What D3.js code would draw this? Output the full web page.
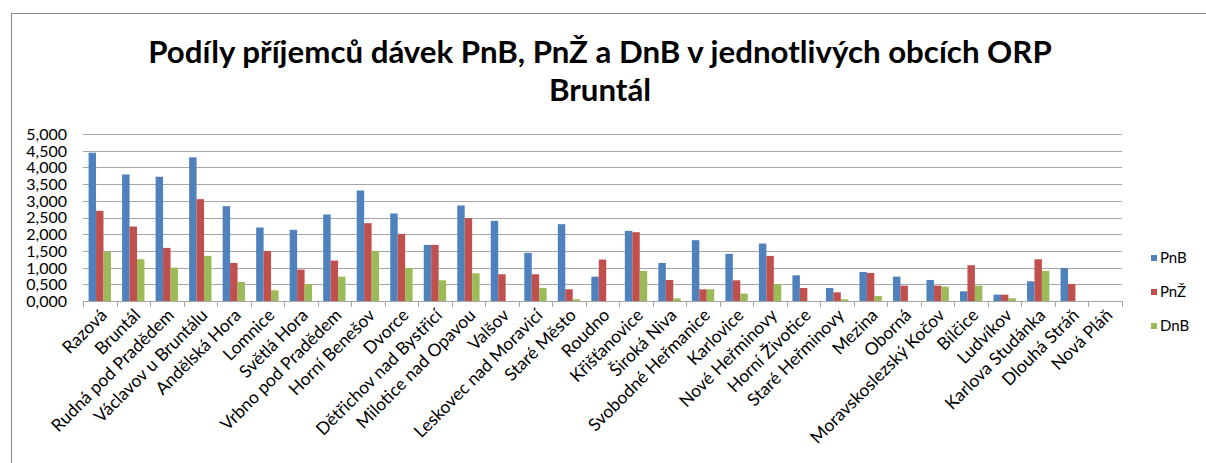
<!DOCTYPE html>
<html>
<head>
<meta charset="utf-8">
<script src="https://cdn.jsdelivr.net/npm/d3@7"></script>
<style>
  html, body { margin: 0; padding: 0; background: #fff; }
  svg { display: block; }
  text { font-family: Lato, "Open Sans", sans-serif; fill: #000; }
</style>
</head>
<body>
<svg id="chart" width="1206" height="463"></svg>
<script>
const categories = ["Razová","Bruntál","Rudná pod Pradědem","Václavov u Bruntálu","Andělská Hora","Lomnice","Světlá Hora","Vrbno pod Pradědem","Horní Benešov","Dvorce","Dětřichov nad Bystřicí","Milotice nad Opavou","Valšov","Leskovec nad Moravicí","Staré Město","Roudno","Křišťanovice","Široká Niva","Svobodné Heřmanice","Karlovice","Nové Heřminovy","Horní Životice","Staré Heřminovy","Mezina","Oborná","Moravskoslezský Kočov","Bílčice","Ludvíkov","Karlova Studánka","Dlouhá Stráň","Nová Pláň"];
const seriesNames = ["PnB","PnŽ","DnB"];
const pnb = [4.44,3.79,3.72,4.30,2.84,2.20,2.13,2.59,3.31,2.62,1.68,2.86,2.40,1.44,2.30,0.73,2.10,1.14,1.82,1.41,1.72,0.77,0.39,0.87,0.73,0.63,0.29,0.19,0.59,0.99,0];
const pnz = [2.70,2.23,1.59,3.05,1.14,1.50,0.94,1.21,2.33,2.01,1.68,2.48,0.80,0.80,0.35,1.24,2.06,0.63,0.35,0.62,1.35,0.39,0.26,0.84,0.46,0.46,1.07,0.19,1.25,0.51,0];
const dnb = [1.48,1.25,1.00,1.35,0.57,0.32,0.51,0.73,1.50,0.99,0.62,0.83,0,0.39,0.05,0,0.90,0.08,0.35,0.22,0.51,0,0.05,0.15,0,0.43,0.46,0.08,0.90,0,0];
const yTicks = [0,0.5,1,1.5,2,2.5,3,3.5,4,4.5,5];
const titleLines = ["Podíly příjemců dávek PnB, PnŽ a DnB v jednotlivých obcích ORP", "Bruntál"];
const colors = ["#4F81BD","#C0504D","#9BBB59"];

const svg = d3.select("#chart");
const seriesData = [pnb, pnz, dnb];

// frame
svg.append("path").attr("d","M11.5,463 V13.5 H1206").attr("fill","none").attr("stroke","#8c8c8c").attr("stroke-width",1.2);

const plot = {left: 83, right: 1122, top: 134, bottom: 301};
const x = d3.scaleBand().domain(categories).range([plot.left, plot.right]).paddingInner(1/3).paddingOuter(1/6);
const xs = d3.scaleBand().domain(seriesNames).range([0, x.bandwidth()]);
const y = d3.scaleLinear().domain([0,5]).range([plot.bottom, plot.top]);

const loc = d3.formatLocale({decimal: ",", thousands: " ", grouping: [3], currency: ["",""]});
const fmt = loc.format(".3f");

// gridlines
svg.append("g").selectAll("line").data(yTicks.filter(d => d > 0)).join("line")
  .attr("x1", plot.left).attr("x2", plot.right)
  .attr("y1", d => Math.round(y(d)) + 0.5).attr("y2", d => Math.round(y(d)) + 0.5)
  .attr("stroke", "#a6a6a6").attr("stroke-width", 1);

// y labels
const yAxis = d3.axisLeft(y).tickValues(yTicks).tickFormat(fmt).tickSize(0).tickPadding(0);
const gy = svg.append("g").attr("transform", `translate(${plot.left - 16},0)`).call(yAxis);
gy.select(".domain").remove();
gy.selectAll("text").style("font-family", "Lato, sans-serif").style("font-size", "16px").attr("fill", "#000").attr("dy", "0.34em");

// bars
const groups = svg.append("g").selectAll("g").data(seriesNames).join("g").attr("fill", (d,i) => colors[i]);
groups.selectAll("rect").data((s, si) => categories.map((c, ci) => ({c, s, v: seriesData[si][ci]})))
  .join("rect")
  .attr("x", d => x(d.c) + xs(d.s))
  .attr("width", xs.bandwidth())
  .attr("y", d => y(d.v))
  .attr("height", d => y(0) - y(d.v));

// x axis
const boundaries = categories.map(c => x(c) - x.step()*x.paddingInner()/2).concat([plot.right]);
const gx = svg.append("g");
gx.append("line").attr("x1", plot.left).attr("x2", plot.right).attr("y1", plot.bottom + 0.5).attr("y2", plot.bottom + 0.5).attr("stroke", "#a6a6a6");
gx.selectAll("line.tick").data(boundaries).join("line").attr("class","tick")
  .attr("x1", d => Math.round(d) + 0.5).attr("x2", d => Math.round(d) + 0.5)
  .attr("y1", plot.bottom).attr("y2", plot.bottom + 6).attr("stroke", "#a6a6a6");

gx.selectAll("text").data(categories).join("text")
  .attr("transform", d => `translate(${x(d) + x.bandwidth()/2 + 4},${plot.bottom + 11}) rotate(-45)`)
  .attr("text-anchor", "end")
  .attr("dy", "0.35em")
  .style("font-size", "17.5px")
  .text(d => d);

// title
const title = svg.append("g");
const t1 = title.append("text").attr("x", 600).attr("y", 63).attr("text-anchor", "middle")
  .style("font-weight", "bold").style("font-size", "28px").text(titleLines[0]);
const w = t1.node().getComputedTextLength();
const fs = 28 * 904 / w;
t1.style("font-size", fs + "px");
title.append("text").attr("x", 600).attr("y", 101).attr("text-anchor", "middle")
  .style("font-weight", "bold").style("font-size", fs + "px").text(titleLines[1]);

// legend
const lg = svg.append("g").selectAll("g").data(seriesNames).join("g")
  .attr("transform", (d,i) => `translate(1151,${258 + i*34})`);
lg.append("rect").attr("x", 0).attr("y", -3).attr("width", 6).attr("height", 6).attr("fill", (d,i) => colors[i]);
lg.append("text").attr("x", 9).attr("dy", "0.36em").style("font-size", "15px").text(d => d);
</script>
</body>
</html>
